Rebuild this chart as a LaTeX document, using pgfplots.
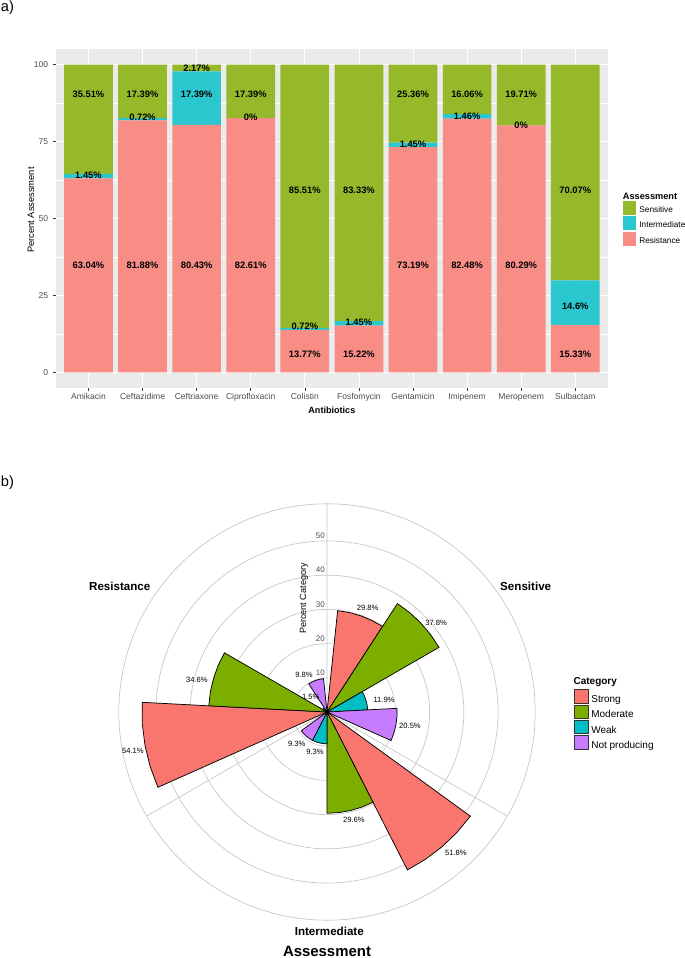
\documentclass[border=0pt]{standalone}
\usepackage{fontspec}
\setmainfont{Liberation Sans}
\usepackage{pgfplots}
\usepackage{pgfplotstable}
\pgfplotsset{compat=1.18}
\usepgfplotslibrary{polar}

\definecolor{sensA}{HTML}{95B92A}
\definecolor{interA}{HTML}{2BC7CE}
\definecolor{resA}{HTML}{F88D86}
\definecolor{strongB}{HTML}{F8766D}
\definecolor{modB}{HTML}{7CAE00}
\definecolor{weakB}{HTML}{00BFC4}
\definecolor{notB}{HTML}{C77CFF}
\definecolor{panelbg}{HTML}{EBEBEB}
\definecolor{gray30}{HTML}{4D4D4D}
\definecolor{gray20}{HTML}{333333}
\definecolor{ringgray}{HTML}{C6C6C6}

\newcommand{\fs}[1]{\fontsize{#1}{#1}\selectfont}

% panel a: percent per antibiotic (Resistance, Intermediate, Sensitive)
\pgfplotstableread{
x R I S
0 63.04 1.45 35.51
1 81.88 0.72 17.39
2 80.43 17.39 2.17
3 82.61 0 17.39
4 13.77 0.72 85.51
5 15.22 1.45 83.33
6 73.19 1.45 25.36
7 82.48 1.46 16.06
8 80.29 0 19.71
9 15.33 14.6 70.07
}\susc

\begin{document}
\begin{tikzpicture}
\path[use as bounding box] (0,0) rectangle (513.75pt,718.5pt);

\node[anchor=base west, inner sep=0pt, font=\fs{11}] at (0.5pt,709.7pt) {a)};
\node[anchor=base west, inner sep=0pt, font=\fs{11}] at (0.5pt,353.5pt) {b)};

% ---- a) stacked bars
\begin{axis}[
  at={(42pt,427.7pt)}, anchor=south west,
  width=413.8pt, height=253.8pt, scale only axis,
  xmin=-0.6, xmax=9.6, ymin=-5, ymax=105,
  ybar stacked, bar width=0.9,
  axis background/.style={fill=panelbg},
  axis line style={draw=none},
  xtick={0,...,9},
  xticklabels={Amikacin,Ceftazidime,Ceftriaxone,Ciprofloxacin,Colistin,Fosfomycin,Gentamicin,Imipenem,Meropenem,Sulbactam},
  ytick={0,25,50,75,100},
  minor ytick={12.5,37.5,62.5,87.5},
  xmajorgrids, ymajorgrids, yminorgrids,
  major grid style={white, line width=0.55pt},
  minor grid style={white, line width=0.3pt},
  tick align=outside, tick pos=left,
  major tick length=2.3pt, minor tick length=0pt,
  tick style={gray20, line width=0.4pt},
  ticklabel style={font=\fs{6.4}, text=gray30},
  xticklabel style={yshift=1.5pt},
  /pgf/number format/assume math mode=true,
  xlabel={Antibiotics}, ylabel={Percent Assessment},
  xlabel style={font=\bfseries\fs{6.8}, at={(axis description cs:0.5,-0.068)}, anchor=center},
  ylabel style={font=\fs{7}, at={(axis description cs:-0.0453,0.525)}, anchor=center},
]
\addplot[fill=resA, draw=none] table[x=x, y=R] {\susc};
\addplot[fill=interA, draw=none] table[x=x, y=I] {\susc};
\addplot[fill=sensA, draw=none] table[x=x, y=S] {\susc};
\end{axis}

% labels and legend of a)
\begin{axis}[
  at={(42pt,427.7pt)}, anchor=south west,
  width=413.8pt, height=253.8pt, scale only axis,
  xmin=-0.6, xmax=9.6, ymin=-5, ymax=105,
  hide axis, clip=false,
  legend cell align=left,
  legend image code/.code={\fill[#1, draw=none] (0pt,-3.5pt) rectangle (10pt,7pt); \path (12.3pt,0pt);},
  legend style={at={(1.0272,0.5526)}, anchor=north west, draw=none, fill=none,
    inner sep=0pt, outer sep=0pt, row sep=1.2pt, font=\fs{6.2}, nodes={inner sep=0pt}},
]
\addplot[forget plot, draw=none, mark=none, nodes near coords, point meta=explicit symbolic,
  nodes near coords align={center},
  nodes near coords style={font=\bfseries\fs{7}, inner sep=0pt}] coordinates {
  (0,90.47)[35.51\%] (0,63.98)[1.45\%] (0,34.92)[63.04\%]
  (1,90.47)[17.39\%] (1,82.85)[0.72\%] (1,34.92)[81.88\%]
  (2,98.80)[2.17\%] (2,90.47)[17.39\%] (2,34.92)[80.43\%]
  (3,90.47)[17.39\%] (3,82.85)[0\%] (3,34.92)[82.61\%]
  (4,59.10)[85.51\%] (4,15.07)[0.72\%] (4,5.86)[13.77\%]
  (5,59.23)[83.33\%] (5,16.14)[1.45\%] (5,5.86)[15.22\%]
  (6,90.47)[25.36\%] (6,74.19)[1.45\%] (6,34.92)[73.19\%]
  (7,90.47)[16.06\%] (7,83.31)[1.46\%] (7,34.92)[82.48\%]
  (8,90.47)[19.71\%] (8,80.38)[0\%] (8,34.92)[80.29\%]
  (9,59.23)[70.07\%] (9,21.57)[14.6\%] (9,5.86)[15.33\%]
};
\addlegendimage{fill=sensA}\addlegendentry{Sensitive}
\addlegendimage{fill=interA}\addlegendentry{Intermediate}
\addlegendimage{fill=resA}\addlegendentry{Resistance}
\end{axis}
\node[anchor=west, inner sep=0pt, font=\bfseries\fs{6.9}] at (467pt,571.2pt) {Assessment};

% ---- b) polar bars
\begin{polaraxis}[
  at={(245.25pt,184.5pt)}, anchor=center,
  width=312.3pt, height=312.3pt, scale only axis,
  xmin=0, xmax=360, ymin=0, ymax=60.86,
  xtick={90,210,330}, xticklabels={,,},
  ytick={10,20,30,40,50}, yticklabels={,,,,},
  xmajorgrids, ymajorgrids,
  grid style={ringgray, line width=0.5pt},
  axis line style={ringgray, line width=0.5pt},
  y axis line style={draw=none},
  major tick length=0pt,
  clip=false,
  legend cell align=left,
  legend image code/.code={\filldraw[#1, draw=gray20, line width=0.5pt] (0.25pt,-2.45pt) rectangle (10.45pt,7.55pt); \path (12.7pt,0pt);},
  legend style={at={(1.0935,0.5545)}, anchor=north west, draw=none, fill=none,
    inner sep=0pt, outer sep=0pt, row sep=0.3pt, font=\fs{7.5}, nodes={inner sep=0pt}},
  every axis plot/.append style={forget plot},
]
% Sensitive
\addplot[fill=strongB, draw=black, line width=0.55pt] coordinates {(444,0) (444,29.8) (437.25,29.8) (430.5,29.8) (423.75,29.8) (417,29.8) (417,0)} -- cycle;
\addplot[fill=modB, draw=black, line width=0.55pt] coordinates {(417,0) (417,37.8) (410.25,37.8) (403.5,37.8) (396.75,37.8) (390,37.8) (390,0)} -- cycle;
\addplot[fill=weakB, draw=black, line width=0.55pt] coordinates {(390,0) (390,11.9) (383.25,11.9) (376.5,11.9) (369.75,11.9) (363,11.9) (363,0)} -- cycle;
\addplot[fill=notB, draw=black, line width=0.55pt] coordinates {(363,0) (363,20.5) (356.25,20.5) (349.5,20.5) (342.75,20.5) (336,20.5) (336,0)} -- cycle;
% Intermediate
\addplot[fill=strongB, draw=black, line width=0.55pt] coordinates {(324,0) (324,51.8) (317.25,51.8) (310.5,51.8) (303.75,51.8) (297,51.8) (297,0)} -- cycle;
\addplot[fill=modB, draw=black, line width=0.55pt] coordinates {(297,0) (297,29.6) (290.25,29.6) (283.5,29.6) (276.75,29.6) (270,29.6) (270,0)} -- cycle;
\addplot[fill=weakB, draw=black, line width=0.55pt] coordinates {(270,0) (270,9.3) (263.25,9.3) (256.5,9.3) (249.75,9.3) (243,9.3) (243,0)} -- cycle;
\addplot[fill=notB, draw=black, line width=0.55pt] coordinates {(243,0) (243,9.3) (236.25,9.3) (229.5,9.3) (222.75,9.3) (216,9.3) (216,0)} -- cycle;
% Resistance
\addplot[fill=strongB, draw=black, line width=0.55pt] coordinates {(204,0) (204,54.1) (197.25,54.1) (190.5,54.1) (183.75,54.1) (177,54.1) (177,0)} -- cycle;
\addplot[fill=modB, draw=black, line width=0.55pt] coordinates {(177,0) (177,34.6) (170.25,34.6) (163.5,34.6) (156.75,34.6) (150,34.6) (150,0)} -- cycle;
\addplot[fill=weakB, draw=black, line width=0.55pt] coordinates {(150,0) (150,1.5) (143.25,1.5) (136.5,1.5) (129.75,1.5) (123,1.5) (123,0)} -- cycle;
\addplot[fill=notB, draw=black, line width=0.55pt] coordinates {(123,0) (123,9.8) (116.25,9.8) (109.5,9.8) (102.75,9.8) (96,9.8) (96,0)} -- cycle;

\addplot[draw=none, mark=none, nodes near coords, point meta=explicit symbolic,
  nodes near coords align={center},
  nodes near coords style={font=\fs{5.7}, inner sep=0pt}] coordinates {
  (428.7,32.74)[29.8\%] (399.3,41.2)[37.8\%] (371.9,17.03)[11.9\%] (350.4,24.6)[20.5\%]
  (312.5,55.8)[51.8\%] (284,32.5)[29.6\%] (253.4,12.3)[9.3\%] (226.6,12.9)[9.3\%]
  (191.4,57.9)[54.1\%] (166.1,39.2)[34.6\%] (137.4,6.48)[1.5\%] (121.9,12.7)[9.8\%]
};

\addlegendimage{fill=strongB}\addlegendentry{Strong}
\addlegendimage{fill=modB}\addlegendentry{Moderate}
\addlegendimage{fill=weakB}\addlegendentry{Weak}
\addlegendimage{fill=notB}\addlegendentry{Not producing}

\pgfplotsinvokeforeach{10,20,30,40,50}{
  \node[anchor=center, inner sep=0pt, font=\fs{6}, text=gray30] at ([xshift=-5pt,yshift=3.75pt]axis cs:90,#1) {#1};
}
\node[rotate=90, font=\fs{6.8}] at (axis cs:101.5,33.86) {Percent Category};
\node[font=\bfseries\fs{8.7}] at (axis cs:32.4,68.8) {Sensitive};
\node[font=\bfseries\fs{8.7}] at (axis cs:148.7,70.9) {Resistance};
\node[font=\bfseries\fs{8.7}] at (axis cs:270.6,64.2) {Intermediate};
\node[font=\bfseries\fs{11.2}] at (axis cs:270,70.1) {Assessment};
\end{polaraxis}
\node[anchor=west, inner sep=0pt, font=\bfseries\fs{7.5}] at (430pt,207.2pt) {Category};
\end{tikzpicture}
\end{document}
